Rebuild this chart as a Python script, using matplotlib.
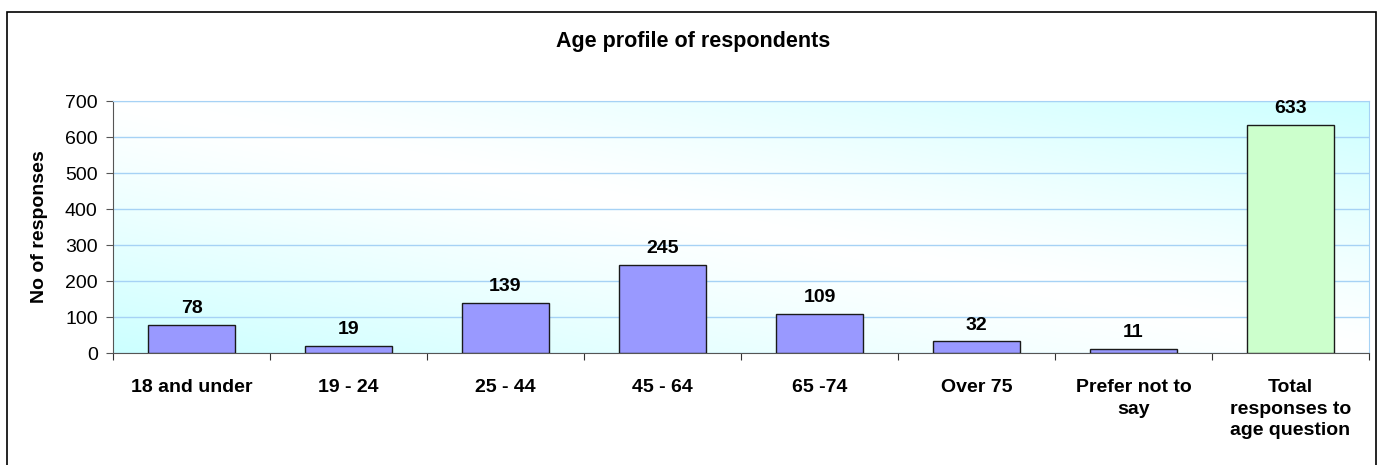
import matplotlib
matplotlib.use("Agg")
import matplotlib.pyplot as plt
import numpy as np
from matplotlib.patches import Rectangle

categories = ["18 and under", "19 - 24", "25 - 44", "45 - 64", "65 -74", "Over 75",
              "Prefer not to\nsay", "Total\nresponses to\nage question"]
values = [78, 19, 139, 245, 109, 32, 11, 633]
yticks = [0, 100, 200, 300, 400, 500, 600, 700]
title = "Age profile of respondents"
ylabel = "No of responses"

plt.rcParams['font.family'] = ['Liberation Sans', 'DejaVu Sans']

fig = plt.figure(figsize=(13.83, 4.65), dpi=100)
W, H = 1383, 465
# outer frame
fig.patches.append(Rectangle((7 / W, -0.1), (1376 - 7) / W, (H - 12) / H + 0.1,
                             transform=fig.transFigure, fill=False, edgecolor='black', lw=1.2))
ax = fig.add_axes([113 / W, (H - 353) / H, (1369 - 113) / W, (353 - 101) / H])

n = len(categories)
# gradient background
gx = np.linspace(0, 1, 300)
gy = np.linspace(0, 1, 100)
X, Y = np.meshgrid(gx, gy)
d = (X + (1 - Y)) / 2.0
t = np.abs(d - 0.5) * 2
t = np.clip(t, 0, 1) ** 1.2
c0 = np.array([1.0, 1.0, 1.0])
c1 = np.array([0.80, 1.0, 1.0])
img = c0[None, None, :] * (1 - t[..., None]) + c1[None, None, :] * t[..., None]
ax.imshow(img, extent=[-0.5, n - 0.5, 0, 700], origin='upper', aspect='auto', zorder=0)

colors = ['#9999FF'] * (n - 1) + ['#CCFFCC']
x = np.arange(n)
bars = ax.bar(x, values, width=0.56, color=colors, edgecolor='#1a1a1a', lw=1.0, zorder=3)
for xi, v in zip(x, values):
    ax.text(xi, v + 22, str(v), ha='center', va='bottom', fontsize=14, fontweight='bold', zorder=4)

ax.set_xlim(-0.5, n - 0.5)
ax.set_ylim(0, 700)
ax.set_yticks(yticks)
ax.yaxis.grid(True, color='#A6D2F5', lw=1.0, zorder=1)
ax.set_axisbelow(True)
ax.tick_params(axis='y', labelsize=14, length=5, color='#555555', direction='out', pad=6)
ax.set_xticks(np.arange(n + 1) - 0.5)
ax.set_xticklabels([])
ax.set_xticks(x, minor=True)
ax.set_xticklabels(categories, minor=True, fontsize=14, fontweight='bold', linespacing=1.32)
ax.tick_params(axis='x', which='major', length=5, color='#333333', direction='out')
ax.tick_params(axis='x', which='minor', length=0, pad=19)
for lbl in ax.get_xticklabels(minor=True):
    lbl.set_verticalalignment('top')
for s in ['top', 'right']:
    ax.spines[s].set_color('#A6D2F5')
ax.spines['left'].set_color('#555555')
ax.spines['bottom'].set_color('#555555')
ax.set_ylabel(ylabel, fontsize=14, fontweight='bold', labelpad=12)
fig.text(693 / W, 1 - 41 / H, title, ha='center', va='center', fontsize=15.5, fontweight='bold')

fig.savefig("out.png", dpi=100)
